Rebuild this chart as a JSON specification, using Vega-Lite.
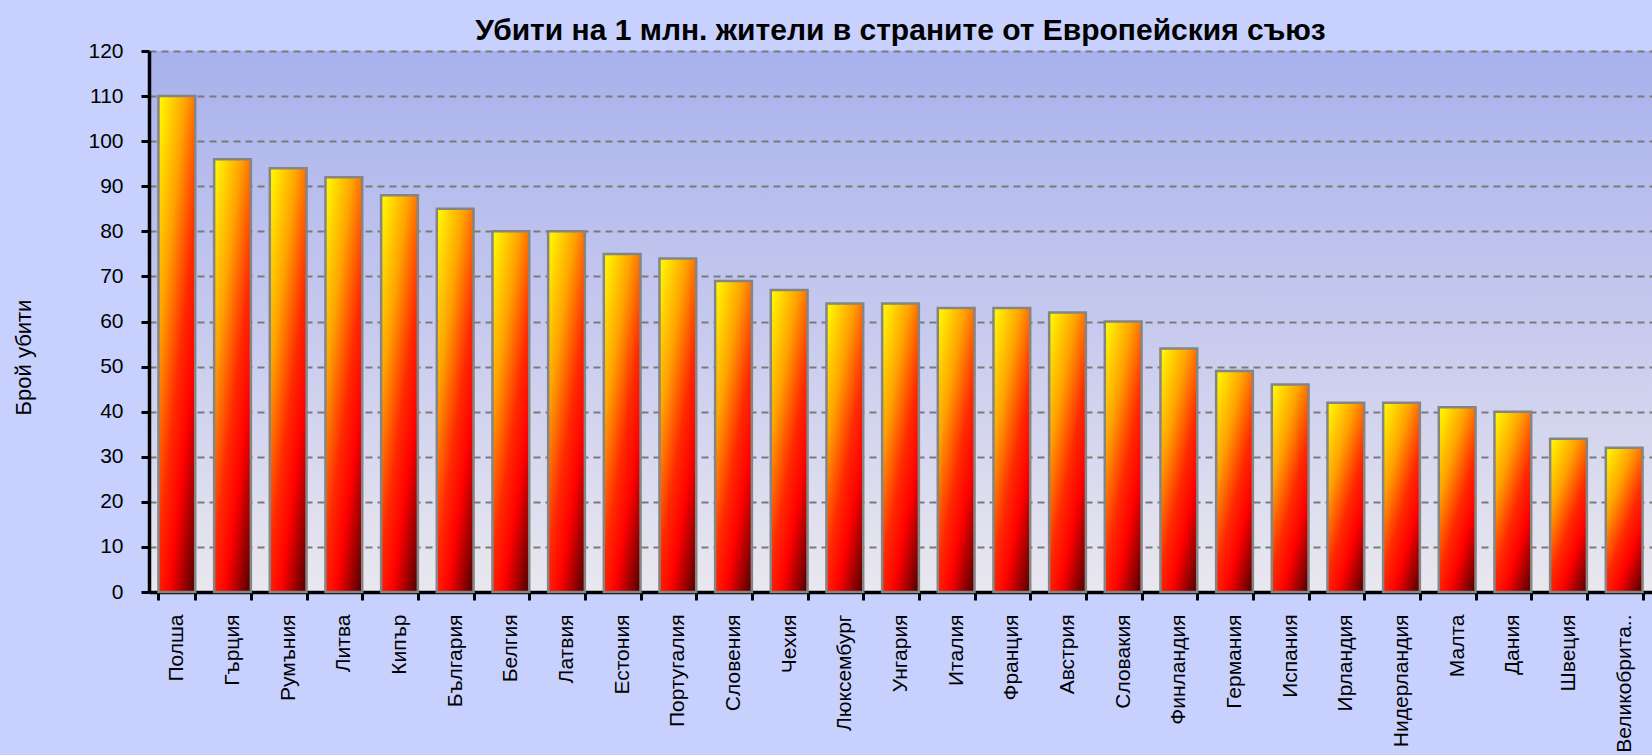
{
  "$schema": "https://vega.github.io/schema/vega-lite/v6.json",
  "autosize": "none",
  "padding": {"left": 149, "top": 51, "right": 0, "bottom": 163},
  "width": 1503,
  "height": 541,
  "background": "#c8d1fe",
  "title": {
    "text": "Убити на 1 млн. жители в страните от Европейския съюз",
    "font": "Liberation Sans",
    "fontSize": 30,
    "fontWeight": "bold",
    "color": "#000000",
    "anchor": "middle",
    "frame": "group",
    "baseline": "alphabetic",
    "offset": 0,
    "dy": 30
  },
  "config": {
    "view": {
      "stroke": null,
      "fill": {"expr": "{gradient: 'linear', x1: 0, y1: 0, x2: 0, y2: 1, stops: [{offset: 0, color: '#a8b1ec'}, {offset: 0.5, color: '#c6c9ee'}, {offset: 1, color: '#e9e8ef'}]}"}
    },
    "axis": {
      "labelFont": "Liberation Sans",
      "labelColor": "#000000",
      "titleColor": "#000000",
      "domainColor": "#000000",
      "tickColor": "#000000"
    }
  },
  "data": {
    "values": [
      {"country": "Полша", "value": 110},
      {"country": "Гърция", "value": 96},
      {"country": "Румъния", "value": 94},
      {"country": "Литва", "value": 92},
      {"country": "Кипър", "value": 88},
      {"country": "България", "value": 85},
      {"country": "Белгия", "value": 80},
      {"country": "Латвия", "value": 80},
      {"country": "Естония", "value": 75},
      {"country": "Португалия", "value": 74},
      {"country": "Словения", "value": 69},
      {"country": "Чехия", "value": 67},
      {"country": "Люксембург", "value": 64},
      {"country": "Унгария", "value": 64},
      {"country": "Италия", "value": 63},
      {"country": "Франция", "value": 63},
      {"country": "Австрия", "value": 62},
      {"country": "Словакия", "value": 60},
      {"country": "Финландия", "value": 54},
      {"country": "Германия", "value": 49},
      {"country": "Испания", "value": 46},
      {"country": "Ирландия", "value": 42},
      {"country": "Нидерландия", "value": 42},
      {"country": "Малта", "value": 41},
      {"country": "Дания", "value": 40},
      {"country": "Швеция", "value": 34},
      {"country": "Великобрита..", "value": 32}
    ]
  },
  "mark": {
    "type": "bar",
    "stroke": "#858585",
    "strokeWidth": 2.5,
    "fill": {
      "gradient": "linear",
      "x1": 0, "y1": 0, "x2": 0.77, "y2": 1.15,
      "stops": [
        {"offset": 0, "color": "#ffff00"},
        {"offset": 0.3, "color": "#ffa200"},
        {"offset": 0.55, "color": "#ff2a00"},
        {"offset": 0.72, "color": "#ff0000"},
        {"offset": 1, "color": "#4a0000"}
      ]
    }
  },
  "encoding": {
    "x": {
      "field": "country",
      "type": "nominal",
      "sort": null,
      "scale": {"paddingInner": 0.34, "paddingOuter": 0.17},
      "axis": {
        "title": null,
        "tickBand": "extent",
        "domainWidth": 3.5,
        "tickWidth": 3,
        "tickSize": 8,
        "labelAngle": -90,
        "labelAlign": "right",
        "labelBaseline": "middle",
        "labelPadding": 14,
        "labelFontSize": 21,
        "labelLimit": 0
      }
    },
    "y": {
      "field": "value",
      "type": "quantitative",
      "scale": {"domain": [0, 120], "nice": false},
      "axis": {
        "values": [0, 10, 20, 30, 40, 50, 60, 70, 80, 90, 100, 110, 120],
        "title": "Брой убити",
        "titleFont": "Liberation Sans",
        "titleFontSize": 22,
        "titleFontWeight": "normal",
        "titleAngle": -90,
        "titleX": -126,
        "titleY": 306,
        "titleAlign": "center",
        "titleBaseline": "middle",
        "domainWidth": 3.5,
        "tickWidth": 3,
        "tickSize": 8,
        "labelPadding": 18,
        "labelFontSize": 21,
        "grid": true,
        "gridColor": "#7a7a7a",
        "gridDash": [7, 5],
        "gridWidth": 2
      }
    }
  }
}
